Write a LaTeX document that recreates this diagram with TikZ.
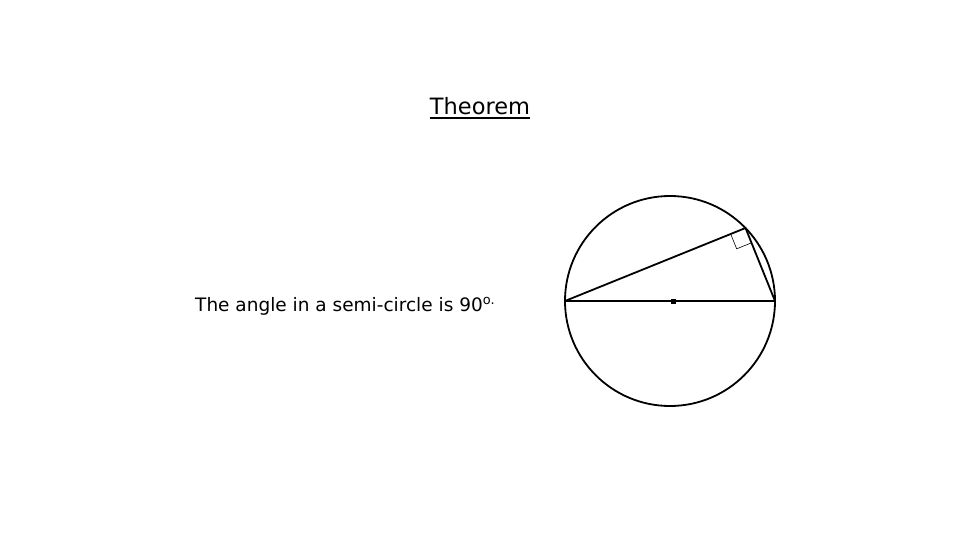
\documentclass[tikz,border=0pt]{standalone}
\usepackage{fontspec}
\setmainfont{DejaVu Sans}
\usetikzlibrary{calc}
\usetikzlibrary{positioning}

\begin{document}
\begin{tikzpicture}[x=1pt,y=-1pt]
			\useasboundingbox (0,0) rectangle (960,540);
			
			\node[font=\fontsize{22.5}{26}\selectfont,inner sep=0pt] (title) at (480,106) {Theorem};
			\draw[line width=1.6pt] ($(title.base west)+(0,3.5)$) -- ($(title.base east)+(0,3.5)$);
			\node[font=\fontsize{18.5}{22}\selectfont,anchor=base west,inner sep=0pt] (thm) at (195,311) {The angle in a semi-circle is 90\textsuperscript{o.}};
			
			\coordinate (O) at (670,301);
			\coordinate (A) at (565,301);
			\coordinate (B) at (775,301);
			\coordinate (C) at (745.5,228);
			
			\draw[line width=1.8pt] (O) circle (105);
			\draw[line width=1.8pt] (A) -- (B);
			\draw[line width=1.8pt] (A) -- (C) -- (B);
			
			% right angle at C
			\coordinate (P) at ($(C)!16pt!(A)$);
			\coordinate (Q) at ($(C)!16pt!(B)$);
			\draw[line width=0.6pt] (P) -- ($(P)+(Q)-(C)$) -- (Q);
			
			\fill ($(O)+(1,-2.5)$) rectangle ($(O)+(6,2.5)$);
			
		\end{tikzpicture}
\end{document}
